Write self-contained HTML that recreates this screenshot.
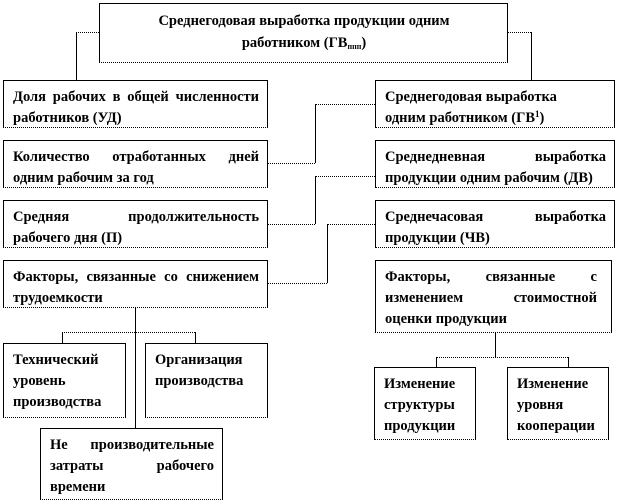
<!DOCTYPE html>
<html><head><meta charset="utf-8"><style>
body{margin:0;width:618px;height:503px;background:#fff;position:relative;overflow:hidden;font-family:"Liberation Serif","DejaVu Serif",serif;}
.b{position:absolute;box-sizing:border-box;border:1px solid #000;border-bottom:1px dotted #000;background:#fff;font-weight:bold;font-size:14.5px;line-height:21px;padding:6px 8px 0 9px;text-align:justify;color:#000;}
.h{position:absolute;border-top:1px dotted #000;height:0}
.v{position:absolute;border-left:1px solid #000;width:0}
sub{font-size:8px;vertical-align:-2px}
sup{font-size:9px;vertical-align:5px;line-height:0}
</style></head><body>
<div class="b" style="left:99px;top:3px;width:409px;height:60px;text-align:center;padding-top:6px;line-height:22px">Среднегодовая выработка продукции одним<br>работником (ГВ<sub>ппп</sub>)</div>

<div class="h" style="left:76px;top:32px;width:23px"></div>
<div class="v" style="left:76px;top:32px;height:48px"></div>
<div class="h" style="left:507px;top:32px;width:24px"></div>
<div class="v" style="left:531px;top:32px;height:48px"></div>

<div class="b" style="left:3px;top:80px;width:265px;height:48px">Доля рабочих в общей численности работников (УД)</div>
<div class="b" style="left:3px;top:140px;width:265px;height:48px">Количество отработанных дней одним рабочим за год</div>
<div class="b" style="left:3px;top:200px;width:265px;height:48px">Средняя продолжительность рабочего дня (П)</div>
<div class="b" style="left:3px;top:260px;width:265px;height:48px">Факторы, связанные со снижением трудоемкости</div>

<div class="b" style="left:375px;top:80px;width:240px;height:48px;text-align:left">Среднегодовая выработка<br>одним работником (ГВ<sup>1</sup>)</div>
<div class="b" style="left:375px;top:140px;width:240px;height:48px">Среднедневная выработка продукции одним рабочим (ДВ)</div>
<div class="b" style="left:375px;top:200px;width:240px;height:48px">Среднечасовая выработка продукции (ЧВ)</div>
<div class="b" style="left:375px;top:260px;width:237px;height:73px;padding-right:14px">Факторы, связанные с изменением стоимостной оценки продукции</div>

<div class="h" style="left:315px;top:104px;width:60px"></div>
<div class="v" style="left:315px;top:104px;height:59px"></div>
<div class="h" style="left:268px;top:163px;width:47px"></div>

<div class="h" style="left:315px;top:176px;width:60px"></div>
<div class="v" style="left:315px;top:176px;height:48px"></div>
<div class="h" style="left:268px;top:224px;width:47px"></div>

<div class="h" style="left:327px;top:224px;width:48px"></div>
<div class="v" style="left:327px;top:224px;height:59px"></div>
<div class="h" style="left:268px;top:283px;width:59px"></div>

<div class="v" style="left:135px;top:308px;height:120px"></div>
<div class="h" style="left:62px;top:332px;width:133px"></div>
<div class="v" style="left:62px;top:332px;height:11px"></div>
<div class="v" style="left:195px;top:332px;height:11px"></div>
<div class="b" style="left:3px;top:343px;width:123px;height:75px;text-align:left">Технический уровень производства</div>
<div class="b" style="left:145px;top:343px;width:123px;height:75px;text-align:left">Организация производства</div>
<div class="b" style="left:40px;top:428px;width:183px;height:72px">Не производительные затраты рабочего времени</div>

<div class="v" style="left:495px;top:333px;height:24px"></div>
<div class="h" style="left:436px;top:357px;width:132px"></div>
<div class="v" style="left:436px;top:357px;height:10px"></div>
<div class="v" style="left:568px;top:357px;height:10px"></div>
<div class="b" style="left:374px;top:367px;width:102px;height:73px;text-align:left">Изменение структуры продукции</div>
<div class="b" style="left:507px;top:367px;width:102px;height:73px;text-align:left">Изменение уровня кооперации</div>
</body></html>
